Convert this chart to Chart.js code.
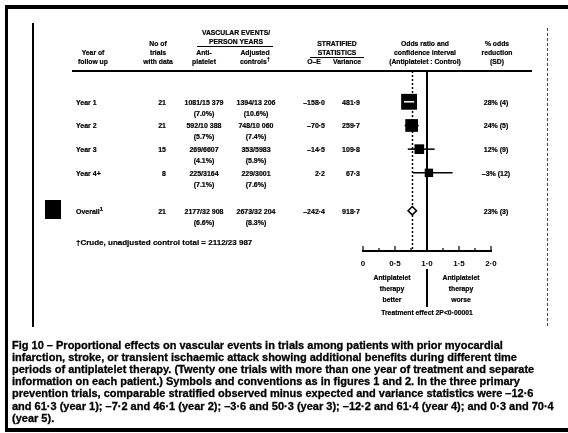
<!DOCTYPE html>
<html>
<head>
<meta charset="utf-8">
<script src="https://cdn.jsdelivr.net/npm/chart.js@4.4.0/dist/chart.umd.min.js"></script>
<style>
  html, body { margin: 0; padding: 0; background: #fff; }
  #page {
    position: relative; width: 568px; height: 433px; overflow: hidden; background: #fff;
    font-family: "Liberation Sans", Arial, sans-serif; font-weight: bold; color: #000;
  }
  #plot { position: absolute; left: 0; top: 0; }
  .t { position: absolute; white-space: pre; line-height: 1; font-size: 7px; -webkit-text-stroke: 0.2px #000; }
  .h { font-size: 6.8px; }
  .foot { font-size: 8px; }
  .cap { position: absolute; white-space: pre; line-height: 1; font-size: 11px; left: 12px; -webkit-text-stroke: 0.3px #000; }
  .sup { font-size: 6px; position: relative; top: -3px; }
  .rule { position: absolute; background: #000; }
</style>
</head>
<body>
<div id="page">
  <canvas id="plot" width="568" height="433"></canvas>
</div>
<script>
// ---- table and forest-plot data ----
const rowLabels = ['Year 1', 'Year 2', 'Year 3', 'Year 4+', 'Overall'];
const trialCounts = ['21', '21', '15', '8', '21'];
const antiplateletEvents = ['1081/15 379', '592/10 388', '269/6607', '225/3164', '2177/32 908'];
const antiplateletPct = ['(7.0%)', '(5.7%)', '(4.1%)', '(7.1%)', '(6.6%)'];
const controlEvents = ['1394/13 206', '748/10 060', '353/5983', '229/3001', '2673/32 204'];
const controlPct = ['(10.6%)', '(7.4%)', '(5.9%)', '(7.6%)', '(8.3%)'];
const observedMinusExpected = ['\u2013158\u00b70', '\u201370\u00b75', '\u201314\u00b75', '2\u00b72', '\u2013242\u00b74'];
const varianceStat = [481.9, 259.7, 109.8, 67.3, 918.7];
const varianceText = ['481\u00b79', '259\u00b77', '109\u00b78', '67\u00b73', '918\u00b77'];
const oddsReduction = [28, 24, 12, -3, 23];
const reductionSD = [4, 5, 9, 12, 3];
const ciLower = [0.64, 0.65, 0.70, 0.78, 0.72];
const ciUpper = [0.80, 0.87, 1.12, 1.40, 0.82];
const axisTicks = [0, 0.5, 1, 1.5, 2];
const tickLabels = ['0', '0\u00b75', '1\u00b70', '1\u00b75', '2\u00b70'];

const captionLines = [
  'Fig 10 \u2013 Proportional effects on vascular events in trials among patients with prior myocardial',
  'infarction, stroke, or transient ischaemic attack showing additional benefits during different time',
  'periods of antiplatelet therapy. (Twenty one trials with more than one year of treatment and separate',
  'information on each patient.) Symbols and conventions as in figures 1 and 2. In the three primary',
  'prevention trials, comparable stratified observed minus expected and variance statistics were \u201312\u00b76',
  'and 61\u00b73 (year 1); \u20137\u00b72 and 46\u00b71 (year 2); \u20133\u00b76 and 50\u00b73 (year 3); \u201312\u00b72 and 61\u00b74 (year 4); and 0\u00b73 and 70\u00b74',
  '(year 5).'
];

// ---- layout helpers ----
const page = document.getElementById('page');
const nYears = 4;
const rowSlot = i => (i < nYears ? i : 4.6);
const oddsRatio = i => 1 - oddsReduction[i] / 100;
const boxSide = i => 4 + 0.54 * Math.sqrt(varianceStat[i]);

function put(text, x, y, align, cls, sup) {
  const d = document.createElement('div');
  d.className = 't' + (cls ? ' ' + cls : '');
  d.textContent = text;
  if (sup) {
    const s = document.createElement('span');
    s.className = 'sup';
    s.textContent = sup;
    d.appendChild(s);
  }
  d.style.left = x + 'px';
  d.style.top = y + 'px';
  const tx = align === 'c' ? '-50%' : align === 'r' ? '-100%' : '0';
  d.style.transform = 'translate(' + tx + ',-50%)';
  page.appendChild(d);
  return d;
}
function rule(x, y, w, h, extra) {
  const d = document.createElement('div');
  d.className = 'rule';
  Object.assign(d.style, { left: x + 'px', top: y + 'px', width: w + 'px', height: h + 'px' }, extra || {});
  page.appendChild(d);
}

// ---- forest plot drawing ----
const forestPlugin = {
  id: 'forest',
  beforeDatasetsDraw(chart) {
    const { ctx, chartArea: a, scales: { x, y } } = chart;
    const seg = (x1, y1, x2, y2) => { ctx.beginPath(); ctx.moveTo(x1, y1); ctx.lineTo(x2, y2); ctx.stroke(); };
    ctx.save();
    ctx.strokeStyle = '#000';
    // no-effect line, continued below the axis between the two captions
    const x1 = Math.round(x.getPixelForValue(1));
    ctx.lineWidth = 2;
    seg(x1, a.top, x1, a.bottom);
    seg(x1, a.bottom + 18, x1, a.bottom + 56);
    // dotted line through the overall odds ratio
    const xo = Math.round(x.getPixelForValue(oddsRatio(nYears))) + 0.5;
    ctx.lineWidth = 1.5;
    ctx.setLineDash([2, 2]);
    seg(xo, a.top, xo, a.bottom);
    ctx.setLineDash([]);
    // confidence intervals
    ctx.lineWidth = 1.5;
    for (let i = 0; i < nYears; i++) {
      const yy = y.getPixelForValue(rowSlot(i));
      seg(x.getPixelForValue(ciLower[i]), yy, x.getPixelForValue(ciUpper[i]), yy);
    }
    // upward tick marks on the axis
    ctx.lineWidth = 1.2;
    x.ticks.forEach(t => {
      const px = x.getPixelForValue(t.value);
      const len = axisTicks.includes(t.value) ? 5 : 3;
      seg(px, a.bottom, px, a.bottom - len);
    });
    ctx.restore();
  },
  afterDatasetsDraw(chart) {
    const { ctx, scales: { x, y } } = chart;
    ctx.save();
    ctx.strokeStyle = '#fff';
    ctx.lineWidth = 1.5;
    for (let i = 0; i < nYears; i++) {
      const cx = x.getPixelForValue(oddsRatio(i));
      const half = boxSide(i) / 2;
      const lo = x.getPixelForValue(ciLower[i]);
      const hi = x.getPixelForValue(ciUpper[i]);
      if (lo > cx - half && hi < cx + half) {
        const yy = y.getPixelForValue(rowSlot(i));
        ctx.beginPath(); ctx.moveTo(lo, yy); ctx.lineTo(hi, yy); ctx.stroke();
      }
    }
    ctx.restore();
  }
};

const yearPoints = rowLabels.slice(0, nYears).map((_, i) => ({ x: oddsRatio(i), y: rowSlot(i) }));
const overallPoint = [{ x: oddsRatio(nYears), y: rowSlot(nYears) }];

const chart = new Chart(document.getElementById('plot'), {
  type: 'scatter',
  data: {
    datasets: [
      {
        data: yearPoints, pointStyle: 'rect',
        pointRadius: c => boxSide(c.dataIndex) / Math.SQRT2,
        backgroundColor: '#000', borderColor: '#000', borderWidth: 0
      },
      {
        data: overallPoint, pointStyle: 'rectRot', pointRadius: 4.2,
        backgroundColor: '#fff', borderColor: '#000', borderWidth: 1.6
      }
    ]
  },
  options: {
    responsive: false, animation: false, devicePixelRatio: 1, events: [],
    layout: { padding: { left: 363, right: 77, top: 71, bottom: 162 } },
    plugins: { legend: { display: false }, tooltip: { enabled: false } },
    scales: {
      x: {
        type: 'linear', min: 0, max: 2,
        grid: { display: false, drawTicks: false },
        border: { display: true, color: '#000', width: 2 },
        ticks: {
          stepSize: 0.25, autoSkip: false, maxRotation: 0, padding: 8, color: '#000',
          font: { family: 'Liberation Sans', size: 8, weight: 'bold' },
          callback: v => { const k = axisTicks.indexOf(v); return k >= 0 ? tickLabels[k] : ''; }
        },
        afterFit: s => { s.height = 20; }
      },
      y: { type: 'linear', display: false, reverse: true, min: -1.3, max: 6.3 }
    }
  },
  plugins: [forestPlugin]
});

// ---- page frame ----
rule(5, 5, 563, 4);
rule(5, 5, 3, 427);
rule(5, 428, 563, 4);
rule(32, 23, 2, 304);
rule(547, 28, 0, 298, { borderLeft: '1px dashed #444', background: 'transparent' });

// ---- column headings ----
put('Year of', 93, 53, 'c', 'h');
put('follow up', 93, 62, 'c', 'h');
put('No of', 158, 44, 'c', 'h');
put('trials', 158, 53, 'c', 'h');
put('with data', 158, 62, 'c', 'h');
put('VASCULAR EVENTS/', 236, 33, 'c', 'h');
put('PERSON YEARS', 236, 42, 'c', 'h');
rule(197, 46, 76, 1);
put('Anti-', 204, 53, 'c', 'h');
put('platelet', 204, 62, 'c', 'h');
put('Adjusted', 255, 53, 'c', 'h');
put('controls', 255, 62, 'c', 'h', '\u2020');
put('STRATIFIED', 337, 44, 'c', 'h');
put('STATISTICS', 337, 53, 'c', 'h');
rule(310, 57, 54, 1);
put('O\u2013E', 314, 62, 'c', 'h');
put('Variance', 347, 62, 'c', 'h');
put('Odds ratio and', 425, 44, 'c', 'h');
put('confidence interval', 425, 53, 'c', 'h');
put('(Antiplatelet : Control)', 425, 62, 'c', 'h');
put('% odds', 497, 44, 'c', 'h');
put('reduction', 497, 53, 'c', 'h');
put('(SD)', 497, 62, 'c', 'h');
rule(72, 70, 460, 1.5);

// ---- table rows, aligned to the plot's row scale ----
const ys = chart.scales.y;
rowLabels.forEach((lab, i) => {
  const yy = Math.round(ys.getPixelForValue(rowSlot(i)));
  const last = i === nYears;
  put(lab, 76, yy, 'l', null, last ? '1' : null);
  put(trialCounts[i], 166, yy, 'r');
  put(antiplateletEvents[i], 204, yy, 'c');
  put(antiplateletPct[i], 204, yy + 11, 'c');
  put(controlEvents[i], 256, yy, 'c');
  put(controlPct[i], 256, yy + 11, 'c');
  put(observedMinusExpected[i], 325, yy, 'r');
  put(varianceText[i], 360, yy, 'r');
  const r = oddsReduction[i];
  put((r < 0 ? '\u2013' + (-r) : r) + '% (' + reductionSD[i] + ')', 496, yy, 'c');
});
rule(45, 200, 16, 19);
put('\u2020Crude, unadjusted control total = 2112/23 987', 76, 243, 'l', 'foot');

// ---- captions under the axis ----
put('Antiplatelet', 392, 278, 'c', 'h');
put('therapy', 392, 289, 'c', 'h');
put('better', 392, 300, 'c', 'h');
put('Antiplatelet', 461, 278, 'c', 'h');
put('therapy', 461, 289, 'c', 'h');
put('worse', 461, 300, 'c', 'h');
put('Treatment effect 2P<0\u00b700001', 427, 313, 'c', 'h');

// ---- figure legend ----
captionLines.forEach((txt, i) => {
  const d = document.createElement('div');
  d.className = 'cap';
  d.textContent = txt;
  d.style.top = (345 + i * 12.2 - 5.5) + 'px';
  page.appendChild(d);
});
</script>
</body>
</html>
